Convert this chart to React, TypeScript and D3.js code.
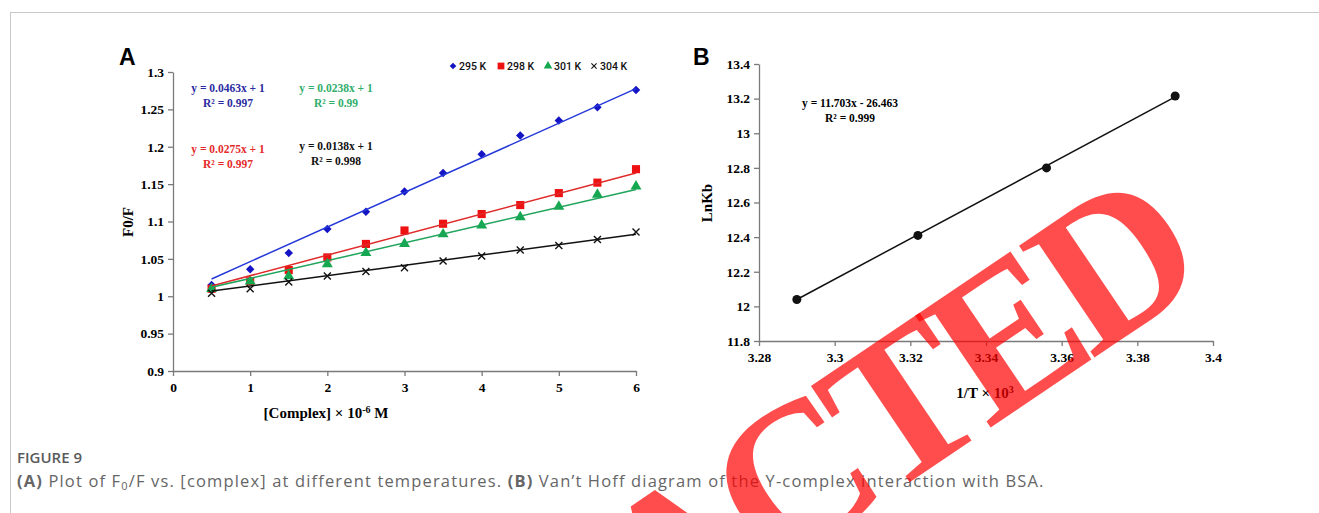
import React, { useEffect, useRef } from 'react';
import * as d3 from 'd3';

// panel A: F0/F vs [complex]
const conc = [0.5, 1, 1.5, 2, 2.5, 3, 3.5, 4, 4.5, 5, 5.5, 6];
const f295 = [1.015, 1.036, 1.058, 1.09, 1.113, 1.14, 1.165, 1.19, 1.215, 1.235, 1.253, 1.276];
const f298 = [1.01, 1.02, 1.035, 1.052, 1.07, 1.088, 1.097, 1.11, 1.122, 1.138, 1.152, 1.17];
const f301 = [1.01, 1.02, 1.027, 1.043, 1.058, 1.07, 1.083, 1.095, 1.106, 1.12, 1.136, 1.147];
const f304 = [1.004, 1.01, 1.019, 1.027, 1.033, 1.038, 1.047, 1.054, 1.062, 1.068, 1.076, 1.086];
const tempLabels = ['295 K', '298 K', '301 K', '304 K'];
const slopesA = [0.0463, 0.0275, 0.0238, 0.0138];
const r2A = ['0.997', '0.997', '0.99', '0.998'];
const xTicksA = [0, 1, 2, 3, 4, 5, 6];
const yTicksA = [0.9, 0.95, 1, 1.05, 1.1, 1.15, 1.2, 1.25, 1.3];

// panel B: Van't Hoff
const invT = [3.29, 3.322, 3.356, 3.39];
const lnKb = [12.04, 12.41, 12.8, 13.215];
const slopeB = 11.703;
const interceptB = -26.463;
const xTicksB = [3.28, 3.3, 3.32, 3.34, 3.36, 3.38, 3.4];
const yTicksB = [11.8, 12, 12.2, 12.4, 12.6, 12.8, 13, 13.2, 13.4];

const serif = '"Liberation Serif", "Times New Roman", serif';
const fmt = (v: number) => String(+v.toFixed(2));

export default function App() {
  const ref = useRef<SVGSVGElement>(null);

  useEffect(() => {
    const svg = d3.select(ref.current);
    svg.selectAll('*').remove();

    // page frame
    svg.append('line').attr('x1', 10).attr('x2', 1319).attr('y1', 12.5).attr('y2', 12.5).attr('stroke', '#c8c8c8');
    svg.append('line').attr('x1', 10.5).attr('x2', 10.5).attr('y1', 12).attr('y2', 513).attr('stroke', '#c8c8c8');

    const styleAxis = (g: any) => {
      g.select('.domain').attr('stroke', '#7a7a7a').attr('stroke-width', 1.3);
      g.selectAll('.tick line').attr('stroke', '#7a7a7a').attr('stroke-width', 1.3);
      g.selectAll('.tick text')
        .attr('font-family', serif)
        .attr('font-weight', 'bold')
        .attr('font-size', 13.5)
        .attr('fill', '#000');
    };

    // ---------- panel A ----------
    const xA = d3.scaleLinear().domain([0, 6]).range([173, 636]);
    const yA = d3.scaleLinear().domain([0.9, 1.3]).range([371, 72]);

    const gxA = svg.append('g').attr('transform', `translate(0,${yA(0.9)})`)
      .call(d3.axisBottom(xA).tickValues(xTicksA).tickSize(5).tickPadding(6).tickSizeOuter(0).tickFormat((d: any) => fmt(d)));
    styleAxis(gxA);
    const gyA = svg.append('g').attr('transform', `translate(${xA(0)},0)`)
      .call(d3.axisLeft(yA).tickValues(yTicksA).tickSize(5).tickPadding(4).tickSizeOuter(0).tickFormat((d: any) => fmt(d)));
    styleAxis(gyA);

    const seriesA = [f295, f298, f301, f304];
    const markColors = ['#1414c4', '#ee1111', '#16a850', '#111111'];
    const lineColors = ['#2538d8', '#e02a2a', '#1fa45c', '#111111'];
    const textColors = ['#2b2ba0', '#e42a2a', '#2fae6c', '#111111'];

    const diamond = d3.symbol().type(d3.symbolSquare).size(36)();
    const square = d3.symbol().type(d3.symbolSquare).size(66)();
    const triangle = d3.symbol().type(d3.symbolTriangle).size(52)();
    const times = 'M-3.5,-3.5L3.5,3.5M-3.5,3.5L3.5,-3.5';
    const shapes = [diamond, square, triangle, times];
    const rot = [45, 0, 0, 0];

    seriesA.forEach((vals, i) => {
      svg.append('g')
        .selectAll('path')
        .data(vals)
        .join('path')
        .attr('d', shapes[i])
        .attr('transform', (d, j) => `translate(${xA(conc[j])},${yA(d)}) rotate(${rot[i]})`)
        .attr('fill', i === 3 ? 'none' : markColors[i])
        .attr('stroke', i === 3 ? markColors[i] : 'none')
        .attr('stroke-width', 1.4);
    });

    const fitLine = d3.line<number>().x((d) => xA(d[0] as any)).y((d) => yA(d[1] as any));
    slopesA.forEach((m, i) => {
      const ends: any = [conc[0], conc[conc.length - 1]].map((x) => [x, m * x + 1]);
      svg.append('path')
        .attr('d', fitLine(ends))
        .attr('fill', 'none')
        .attr('stroke', lineColors[i])
        .attr('stroke-width', 1.5);
    });

    // legend A
    const legX = [453, 501, 548, 594];
    tempLabels.forEach((t, i) => {
      svg.append('path')
        .attr('d', i === 0 ? d3.symbol().type(d3.symbolSquare).size(22)() : i === 1 ? d3.symbol().type(d3.symbolSquare).size(46)() : i === 2 ? d3.symbol().type(d3.symbolTriangle).size(32)() : 'M-2.6,-2.6L2.6,2.6M-2.6,2.6L2.6,-2.6')
        .attr('transform', `translate(${legX[i]},66) rotate(${rot[i]})`)
        .attr('fill', i === 3 ? 'none' : markColors[i])
        .attr('stroke', i === 3 ? '#111' : 'none')
        .attr('stroke-width', 1.1);
      svg.append('text')
        .attr('x', legX[i] + 6)
        .attr('y', 69.5)
        .attr('font-family', 'Roboto, sans-serif')
        .attr('font-weight', 500)
        .attr('font-size', 10.5)
        .attr('fill', '#111')
        .text(t);
    });

    // equations A
    const eqPos = [
      [228, 92],
      [228, 153],
      [336, 92],
      [336, 150],
    ];
    slopesA.forEach((m, i) => {
      const t = svg.append('text')
        .attr('font-family', serif)
        .attr('font-weight', 'bold')
        .attr('font-size', 11.5)
        .attr('fill', textColors[i])
        .attr('text-anchor', 'middle');
      t.append('tspan').attr('x', eqPos[i][0]).attr('y', eqPos[i][1]).text(`y = ${m}x + 1`);
      t.append('tspan').attr('x', eqPos[i][0]).attr('y', eqPos[i][1] + 15).text(`R² = ${r2A[i]}`);
    });

    svg.append('text')
      .attr('transform', 'translate(133,222) rotate(-90)')
      .attr('text-anchor', 'middle')
      .attr('font-family', serif)
      .attr('font-weight', 'bold')
      .attr('font-size', 15)
      .text('F0/F');

    const xtA = svg.append('text')
      .attr('x', 326)
      .attr('y', 418)
      .attr('text-anchor', 'middle')
      .attr('font-family', serif)
      .attr('font-weight', 'bold')
      .attr('font-size', 15);
    xtA.append('tspan').text('[Complex] × 10');
    xtA.append('tspan').attr('dy', -5).attr('font-size', 10).text('-6');
    xtA.append('tspan').attr('dy', 5).text(' M');

    svg.append('text')
      .attr('x', 119)
      .attr('y', 65)
      .attr('font-family', '"Liberation Sans", Arial, sans-serif')
      .attr('font-weight', 'bold')
      .attr('font-size', 23)
      .text('A');

    // ---------- panel B ----------
    const xB = d3.scaleLinear().domain([3.28, 3.4]).range([759, 1213]);
    const yB = d3.scaleLinear().domain([11.8, 13.4]).range([341, 64]);

    const gxB = svg.append('g').attr('transform', `translate(0,${yB(11.8)})`)
      .call(d3.axisBottom(xB).tickValues(xTicksB).tickSize(5).tickPadding(6).tickSizeOuter(0).tickFormat((d: any) => fmt(d)));
    styleAxis(gxB);
    const gyB = svg.append('g').attr('transform', `translate(${xB(3.28)},0)`)
      .call(d3.axisLeft(yB).tickValues(yTicksB).tickSize(5).tickPadding(4).tickSizeOuter(0).tickFormat((d: any) => fmt(d)));
    styleAxis(gyB);

    const x0 = invT[0];
    const x1 = invT[invT.length - 1];
    svg.append('line')
      .attr('x1', xB(x0)).attr('y1', yB(slopeB * x0 + interceptB))
      .attr('x2', xB(x1)).attr('y2', yB(slopeB * x1 + interceptB))
      .attr('stroke', '#111')
      .attr('stroke-width', 1.5);

    svg.append('g')
      .selectAll('circle')
      .data(lnKb)
      .join('circle')
      .attr('cx', (d, i) => xB(invT[i]))
      .attr('cy', (d) => yB(d))
      .attr('r', 4.5)
      .attr('fill', '#111');

    const eqB = svg.append('text')
      .attr('font-family', serif)
      .attr('font-weight', 'bold')
      .attr('font-size', 11.5)
      .attr('text-anchor', 'middle');
    eqB.append('tspan').attr('x', 850).attr('y', 107).text(`y = ${slopeB}x - ${-interceptB}`);
    eqB.append('tspan').attr('x', 850).attr('y', 122).text('R² = 0.999');

    svg.append('text')
      .attr('transform', 'translate(712,203) rotate(-90)')
      .attr('text-anchor', 'middle')
      .attr('font-family', serif)
      .attr('font-weight', 'bold')
      .attr('font-size', 15)
      .text('LnKb');

    const xtB = svg.append('text')
      .attr('x', 985)
      .attr('y', 398)
      .attr('text-anchor', 'middle')
      .attr('font-family', serif)
      .attr('font-weight', 'bold')
      .attr('font-size', 15);
    xtB.append('tspan').text('1/T × 10');
    xtB.append('tspan').attr('dy', -5).attr('font-size', 10).text('3');

    svg.append('text')
      .attr('x', 693)
      .attr('y', 65)
      .attr('font-family', '"Liberation Sans", Arial, sans-serif')
      .attr('font-weight', 'bold')
      .attr('font-size', 23)
      .text('B');

    // ---------- caption ----------
    svg.append('text')
      .attr('x', 17)
      .attr('y', 463)
      .attr('font-family', '"Open Sans", sans-serif')
      .attr('font-weight', 600)
      .attr('font-size', 15)
      .attr('fill', '#5a5a5a')
      .text('FIGURE 9');

    const cap = svg.append('text')
      .attr('x', 17)
      .attr('y', 487)
      .attr('font-family', '"Open Sans", sans-serif')
      .attr('font-size', 16.5)
      .attr('letter-spacing', 1.15)
      .attr('fill', '#666');
    cap.append('tspan').attr('font-weight', 700).text('(A)');
    cap.append('tspan').text(' Plot of F');
    cap.append('tspan').attr('font-size', 11).attr('dy', 3).text('0');
    cap.append('tspan').attr('dy', -3).text('/F vs. [complex] at different temperatures. ');
    cap.append('tspan').attr('font-weight', 700).text('(B)');
    cap.append('tspan').text(' Van\u2019t Hoff diagram of the Y-complex interaction with BSA.');

    // ---------- watermark ----------
    svg.append('text')
      .attr('transform', 'translate(1205,283) rotate(-34)')
      .attr('text-anchor', 'end')
      .attr('font-family', serif)
      .attr('font-weight', 'bold')
      .attr('font-size', 206)
      .attr('letter-spacing', -12)
      .attr('fill', '#ff0000')
      .attr('fill-opacity', 0.7)
      .text('RETRACTED');
  }, []);

  return (
    <svg
      ref={ref}
      width={1319}
      height={513}
      style={{ position: 'absolute', left: 0, top: 0, background: '#fff' }}
    />
  );
}
